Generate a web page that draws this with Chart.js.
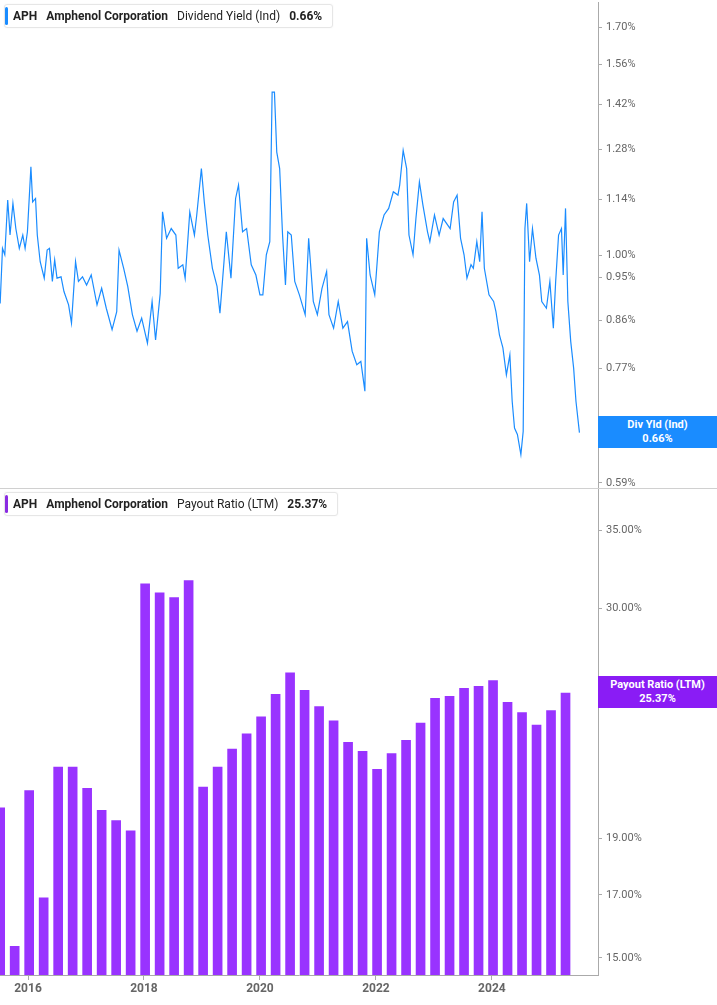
<!DOCTYPE html>
<html><head><meta charset="utf-8">
<script src="https://cdn.jsdelivr.net/npm/chart.js@4.4.0/dist/chart.umd.min.js"></script>
<style>
body{margin:0;background:#fff;font-family:Roboto,"Noto Sans",sans-serif;}
#wrap{position:relative;width:717px;height:1005px;overflow:hidden;}
canvas{position:absolute;left:0;}
.leg{position:absolute;left:4px;background:#fff;border:1px solid #e6e6e6;border-radius:3px;font-size:12px;color:#222;padding:4px 10px 4px 8px;white-space:nowrap;box-shadow:0 0 2px rgba(0,0,0,.05)}
.leg::before{content:"";position:absolute;left:0;top:2px;bottom:2px;width:3px;border-radius:2px;background:var(--c)}
.leg b{font-weight:700}
.leg span{margin-right:9px}
.tag{position:absolute;left:598px;width:119px;color:#fff;font-size:11px;font-weight:700;text-align:center;line-height:14px;padding:2px 0}
.sep{position:absolute;left:0;width:717px;height:1px;background:#d0d0d0}
</style></head>
<body><div id="wrap">
<canvas id="c1" width="717" height="508" style="top:-8px"></canvas>
<canvas id="c2" width="717" height="525" style="top:480px"></canvas>
<div class="sep" style="top:488px"></div>
<div class="leg" style="top:4px;--c:#1a8cff"><span><b>APH</b></span><span><b>Amphenol Corporation</b></span><span>Dividend Yield (Ind)</span><b>0.66%</b></div>
<div class="leg" style="top:492px;--c:#8a2be2"><span><b>APH</b></span><span><b>Amphenol Corporation</b></span><span>Payout Ratio (LTM)</span><b>25.37%</b></div>
<div class="tag" style="top:416px;background:#1a8cff">Div Yld (Ind)<br>0.66%</div>
<div class="tag" style="top:676px;background:#8a1cf5">Payout Ratio (LTM)<br>25.37%</div>
</div>
<script>
const yieldDates=[2015.52,2015.56,2015.60,2015.65,2015.69,2015.74,2015.79,2015.85,2015.91,2015.95,2015.99,2016.05,2016.08,2016.13,2016.16,2016.21,2016.28,2016.33,2016.37,2016.42,2016.46,2016.50,2016.57,2016.62,2016.70,2016.75,2016.82,2016.87,2016.94,2017.01,2017.09,2017.19,2017.27,2017.35,2017.45,2017.53,2017.57,2017.65,2017.72,2017.80,2017.88,2017.96,2018.06,2018.14,2018.20,2018.28,2018.32,2018.39,2018.47,2018.55,2018.59,2018.67,2018.71,2018.79,2018.87,2018.91,2018.99,2019.04,2019.10,2019.18,2019.26,2019.31,2019.38,2019.42,2019.50,2019.58,2019.63,2019.70,2019.77,2019.85,2019.93,2020.00,2020.05,2020.11,2020.17,2020.21,2020.25,2020.29,2020.34,2020.39,2020.44,2020.48,2020.54,2020.60,2020.68,2020.78,2020.84,2020.92,2020.99,2021.07,2021.15,2021.19,2021.27,2021.35,2021.43,2021.51,2021.59,2021.67,2021.74,2021.81,2021.84,2021.90,2021.98,2022.06,2022.14,2022.22,2022.30,2022.38,2022.41,2022.47,2022.53,2022.57,2022.64,2022.69,2022.75,2022.81,2022.89,2022.93,2023.01,2023.09,2023.16,2023.28,2023.34,2023.40,2023.46,2023.52,2023.57,2023.64,2023.68,2023.74,2023.79,2023.83,2023.87,2023.95,2024.03,2024.07,2024.13,2024.19,2024.25,2024.31,2024.35,2024.39,2024.44,2024.50,2024.54,2024.57,2024.60,2024.65,2024.70,2024.76,2024.82,2024.86,2024.94,2025.00,2025.06,2025.10,2025.15,2025.20,2025.23,2025.27,2025.31,2025.36,2025.41,2025.45,2025.51];
const yieldValues=[0.895,1.017,1.002,1.138,1.049,1.129,1.065,1.017,1.049,1.017,1.057,1.229,1.133,1.142,1.049,0.986,0.949,1.013,1.017,0.942,0.990,0.949,0.952,0.920,0.892,0.855,0.986,0.942,0.952,0.934,0.956,0.892,0.927,0.885,0.842,0.878,1.013,0.971,0.931,0.872,0.839,0.865,0.816,0.899,0.822,0.916,1.107,1.041,1.065,1.049,0.971,0.979,0.949,1.107,1.049,1.099,1.224,1.133,1.049,0.971,0.931,0.875,0.986,1.057,0.949,1.142,1.178,1.057,1.065,0.979,0.956,0.913,0.913,1.002,1.033,1.462,1.462,1.272,1.224,1.049,0.934,1.057,1.049,0.942,0.913,0.872,1.041,0.899,0.872,0.927,0.964,0.872,0.845,0.899,0.845,0.858,0.801,0.776,0.782,0.730,1.041,0.956,0.913,1.057,1.099,1.116,1.160,1.151,1.178,1.277,1.224,1.049,1.002,1.090,1.187,1.125,1.057,1.033,1.099,1.049,1.090,1.065,1.133,1.151,1.041,1.002,0.949,0.979,0.971,1.033,0.986,1.107,0.971,0.913,0.899,0.878,0.832,0.807,0.758,0.794,0.713,0.670,0.660,0.630,0.665,1.065,1.129,0.986,1.065,0.994,0.956,0.899,0.885,0.942,0.845,0.942,1.049,1.065,0.956,1.116,0.899,0.819,0.770,0.713,0.663];
const payoutDates=[];for(let i=0;i<40;i++)payoutDates.push(2015.52+i*0.25);
const payoutValues=[20.2,15.35,20.9,16.9,21.9,21.9,21.0,20.1,19.7,19.3,31.5,30.95,30.65,31.7,21.05,21.9,22.7,23.4,24.2,25.3,26.4,25.5,24.7,24.0,23.0,22.6,21.8,22.5,23.1,23.9,25.1,25.2,25.6,25.7,26.0,24.9,24.4,23.8,24.5,25.37];
const yieldTicks=[0.59,0.68,0.77,0.86,0.95,1.00,1.14,1.28,1.42,1.56,1.70];
const payoutTicks=[15,17,19,25,30,35];
const yearTicks=[2016,2018,2020,2022,2024];
const XMIN=2015.517,XMAX=2025.83;

const yAxis=(min,max,ticks)=>({type:'logarithmic',position:'right',min,max,
  afterBuildTicks:a=>{a.ticks=ticks.map(v=>({value:v}));},
  afterFit:s=>{s.width=119;},
  border:{display:true,color:'#aaa'},
  grid:{drawOnChartArea:false,tickLength:4,color:'#aaa'},
  ticks:{color:'#666',font:{size:11,family:'Roboto'},padding:4,callback:v=>v.toFixed(2)+'%'}});

new Chart(document.getElementById('c1'),{type:'line',
 data:{datasets:[{data:yieldDates.map((d,i)=>({x:d,y:yieldValues[i]})),borderColor:'#1a8cff',borderWidth:1.2,pointRadius:0,tension:0}]},
 options:{responsive:false,animation:false,layout:{padding:0},plugins:{legend:{display:false},tooltip:{enabled:false}},
  scales:{x:{type:'linear',min:XMIN,max:XMAX,display:false},y:yAxis(0.581,1.80,yieldTicks)}}});

new Chart(document.getElementById('c2'),{type:'bar',
 data:{datasets:[{data:payoutDates.map((d,i)=>({x:d,y:payoutValues[i]})),backgroundColor:'#9933ff',barThickness:9,borderSkipped:false}]},
 options:{responsive:false,animation:false,layout:{padding:0},plugins:{legend:{display:false},tooltip:{enabled:false}},
  scales:{x:{type:'linear',min:XMIN,max:XMAX,offset:false,bounds:'ticks',
    afterDataLimits:s=>{s.min=XMIN;s.max=XMAX;},
    afterBuildTicks:a=>{a.ticks=yearTicks.map(v=>({value:v}));},
    afterFit:s=>{s.height=30;},
    border:{display:true,color:'#aaa'},
    grid:{drawOnChartArea:false,tickLength:5,color:'#aaa',offset:false},
    ticks:{color:'#666',font:{size:12,weight:'bold',family:'Roboto'},padding:2,maxRotation:0,callback:v=>String(v)}},
   y:yAxis(14.5,37.9,payoutTicks)}}});
</script></body></html>
